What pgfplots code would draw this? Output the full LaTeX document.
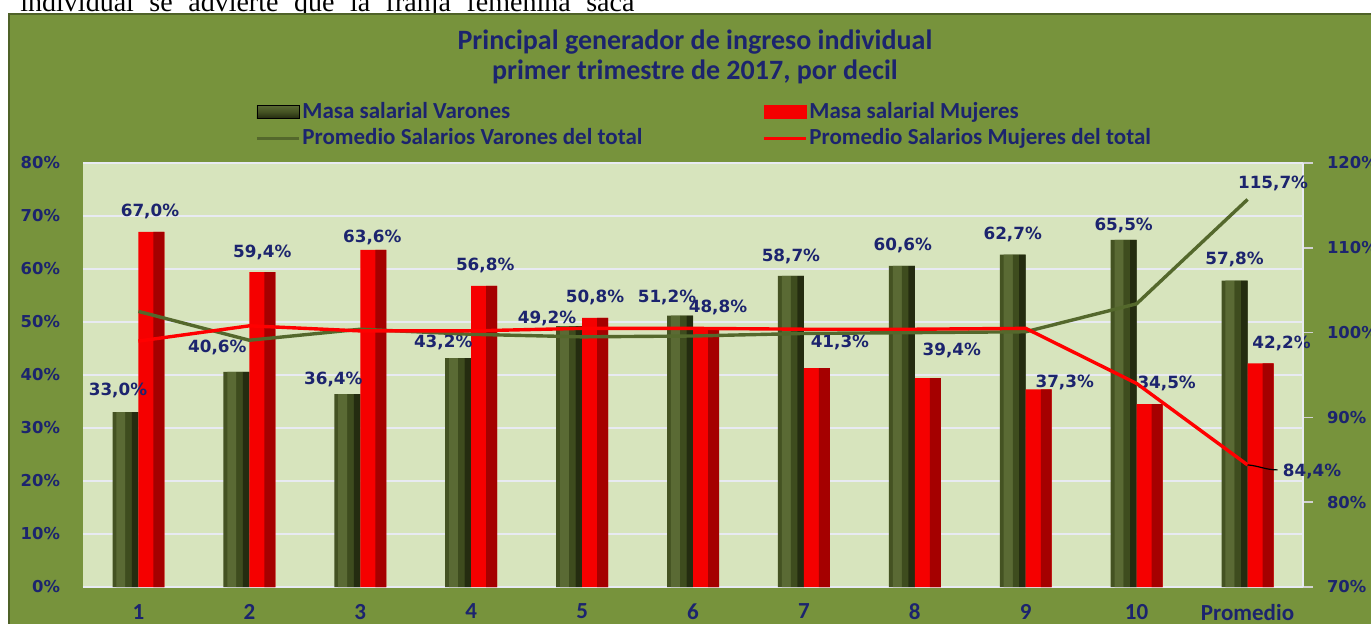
\documentclass[border=0pt]{standalone}
\usepackage{pgfplots}
\pgfplotsset{compat=1.18}
\usepackage{pgfplotstable}
\usepackage{fontspec}
\setmainfont{Carlito}
\newfontfamily\numfont{DejaVu Sans}
\newfontfamily\pagefont{Liberation Serif}

\definecolor{navy}{RGB}{28,36,110}
\definecolor{chartbg}{RGB}{119,147,60}
\definecolor{chartedge}{RGB}{79,98,40}
\definecolor{plotbg}{RGB}{215,228,189}
\definecolor{gridc}{RGB}{232,234,242}
\definecolor{gbarA}{RGB}{68,82,34}
\definecolor{gbarB}{RGB}{90,106,52}
\definecolor{gbarC}{RGB}{62,76,30}
\definecolor{gbarD}{RGB}{36,44,16}
\definecolor{rbar}{RGB}{245,0,0}
\definecolor{rbarside}{RGB}{165,0,0}
\definecolor{gline}{RGB}{84,104,44}

% bar values (left axis) and label offsets from the category centre, in pt
\pgfplotstableread{
x  v    vdx    vdy   m    mdx   mdy
1  33.0 -10.25 11    67.0  5.75 10
2  40.6 -16    12    59.4  6.5  10
3  36.4 -13.5  7.5   63.6  6    6
4  43.2 -14    8     56.8  7    10.5
5  49.2 -17.5  4     50.8  6.5  10
6  51.2 -13    9     48.8  12.5 10.5
7  58.7 -6.5   9.5   41.3  18   13
8  60.6 -6     10    39.4  18.5 14
9  62.7 -6.5   10    37.3  19.5 3.5
10 65.5 -6.5   7     34.5  15   10.5
11 57.8 -6.5   10.5  42.2  17   10
}\masa

% lines (right axis)
\pgfplotstableread{
x  pv     pm
1  102.5  99.0
2  99.1   100.8
3  100.4  100.2
4  99.8   100.2
5  99.5   100.5
6  99.6   100.5
7  99.9   100.4
8  100.0  100.4
9  100.1  100.5
10 103.4  94.0
11 115.7  84.4
}\promedio

\pgfplotsset{
  pct/.style={
    nodes near coords={\pgfmathprintnumber[fixed,fixed zerofill,precision=1,use comma,assume math mode=true]{\pgfplotspointmeta}\%},
    every node near coord/.append style={font=\numfont\bfseries\fontsize{8.4}{10}\selectfont, text=navy, inner sep=0pt},
  },
  common/.style={
    at={(0,0)}, anchor=south west,
    scale only axis, width=610pt, height=212pt,
    xmin=0.5, xmax=11.5, clip=false,
  },
}

\begin{document}
\begin{tikzpicture}
\useasboundingbox (-41.5pt,-18pt) rectangle (644pt,293.5pt);
\node[anchor=base west,inner sep=0pt] at (-31.5pt,287.5pt)
  {\pagefont\fontsize{14}{16}\selectfont\hbox to 307pt{individual\hfill se\hfill advierte\hfill que\hfill la\hfill franja\hfill femenina\hfill saca}};
\fill[chartbg] (-37pt,-40pt) rectangle (670pt,286.5pt);
\draw[chartedge,line width=1.2pt] (-37pt,-40pt) -- (-37pt,286.5pt) -- (670pt,286.5pt);

\begin{axis}[
  common,
  ymin=0, ymax=80,
  xtick={1,...,11},
  xticklabels={1,2,3,4,5,6,7,8,9,10,Promedio},
  ytick={0,10,...,80},
  yticklabels={0\%,10\%,20\%,30\%,40\%,50\%,60\%,70\%,80\%},
  axis x line*=bottom, axis y line*=left,
  x axis line style={draw=gridc, line width=1pt, -},
  y axis line style={draw=none},
  major tick length=0pt,
  ymajorgrids, grid style={draw=gridc, line width=0.9pt},
  axis background/.style={fill=plotbg},
  xticklabel style={font=\bfseries\fontsize{11.5}{13}\selectfont, text=navy, yshift=-5pt},
  yticklabel style={font=\numfont\bfseries\fontsize{8.2}{10}\selectfont, text=navy, xshift=-8pt},
  title={Principal generador de ingreso individual\\primer trimestre de 2017, por decil},
  every axis title shift=0pt,
  title style={font=\bfseries\fontsize{14}{15}\selectfont, text=navy, align=center, at={(0.5016,1.25)}, anchor=center},
  legend columns=2,
  legend cell align=left,
  legend style={at={(0.141,1.0896)}, anchor=west, draw=none, fill=none, inner sep=0pt,
    font=\bfseries\fontsize{11.5}{13}\selectfont, text=navy,
    nodes={inner xsep=1pt, inner ysep=1.8pt},
    /tikz/every even column/.append style={column sep=11pt}},
]
\addlegendimage{legend image code/.code={\fill[top color=gbarB, bottom color=gbarD, middle color=gbarA] (0pt,-3.2pt) rectangle (21pt,3.2pt);}}
\addlegendentry{\makebox[218pt][l]{Masa salarial Varones}}
\addlegendimage{legend image code/.code={\fill[rbar] (0pt,-3.2pt) rectangle (21pt,3.2pt);}}
\addlegendentry{Masa salarial Mujeres}
\addlegendimage{legend image code/.code={\draw[gline,line width=1.5pt] (0pt,0pt) -- (21pt,0pt);}}
\addlegendentry{\makebox[218pt][l]{Promedio Salarios Varones del total}}
\addlegendimage{legend image code/.code={\draw[red,line width=1.5pt] (0pt,0pt) -- (21pt,0pt);}}
\addlegendentry{Promedio Salarios Mujeres del total}

% green bars, drawn as strips to give the rounded look
\addplot[ybar, bar width=0.234, bar shift=-0.117, draw=none, fill=gbarA, forget plot]
  table[x=x,y=v]{\masa};
\addplot[ybar, bar width=0.082, bar shift=-0.158, draw=none, fill=gbarB, forget plot]
  table[x=x,y=v]{\masa};
\addplot[ybar, bar width=0.0585, bar shift=-0.0878, draw=none, fill=gbarC, forget plot]
  table[x=x,y=v]{\masa};
\addplot[ybar, bar width=0.0585, bar shift=-0.0293, draw=none, fill=gbarD, forget plot]
  table[x=x,y=v]{\masa};
% red bars with a darker side
\addplot[ybar, bar width=0.234, bar shift=0.117, draw=none, fill=rbar, forget plot]
  table[x=x,y=m]{\masa};
\addplot[ybar, bar width=0.099, bar shift=0.185, draw=none, fill=rbarside, forget plot]
  table[x=x,y=m]{\masa};

% value labels
\addplot[ybar, bar width=0.234, draw=none, fill=none, forget plot, pct,
  visualization depends on={\thisrow{vdx} \as \dx},
  visualization depends on={\thisrow{vdy} \as \dy},
  every node near coord/.append style={anchor=center, xshift=\dx pt, yshift=\dy pt}]
  table[x=x,y=v]{\masa};
\addplot[ybar, bar width=0.234, draw=none, fill=none, forget plot, pct,
  visualization depends on={\thisrow{mdx} \as \dx},
  visualization depends on={\thisrow{mdy} \as \dy},
  every node near coord/.append style={anchor=center, xshift=\dx pt, yshift=\dy pt}]
  table[x=x,y=m]{\masa};
\end{axis}

\begin{axis}[
  common,
  ymin=70, ymax=120,
  axis x line=none, axis y line*=right,
  y axis line style={draw=gridc, line width=1pt, -},
  ytick={70,80,...,120},
  yticklabels={70\%,80\%,90\%,100\%,110\%,120\%},
  tick align=outside, major tick length=5pt,
  ytick style={draw=gray!35, line width=0.8pt},
  yticklabel style={font=\numfont\bfseries\fontsize{8.2}{10}\selectfont, text=navy, xshift=3.5pt},
]
\addplot[gline, line width=1.7pt] table[x=x,y=pv]{\promedio};
\addplot[red, line width=1.7pt] table[x=x,y=pm]{\promedio};
\addplot[draw=none, mark=none, pct,
  every node near coord/.append style={anchor=center, xshift=12.75pt, yshift=8pt}]
  coordinates {(11,115.7)};
\draw[black, line width=0.6pt] (axis cs:11,84.4) to[out=-5,in=180] ++(15pt,-2.5pt);
\addplot[draw=none, mark=none, pct,
  every node near coord/.append style={anchor=west, xshift=17.5pt, yshift=-3.5pt}]
  coordinates {(11,84.4)};
\end{axis}
\end{tikzpicture}
\end{document}
